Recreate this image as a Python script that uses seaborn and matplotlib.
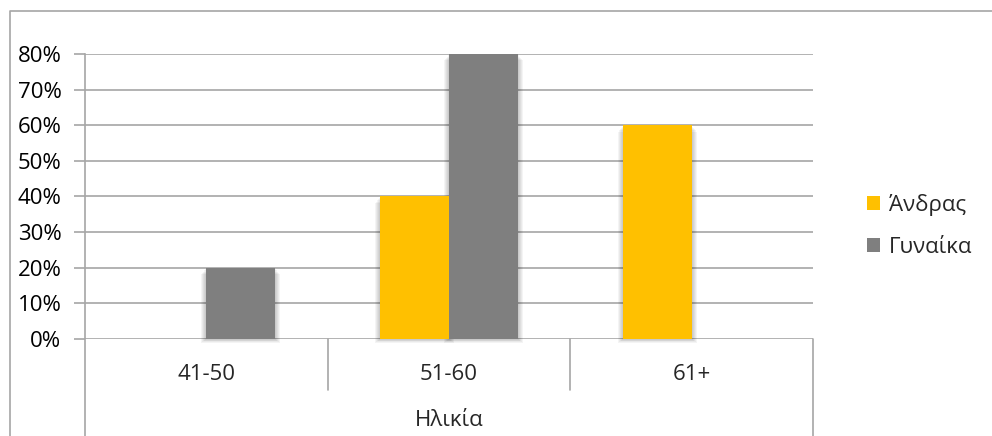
import matplotlib
matplotlib.use("Agg")
import matplotlib.pyplot as plt
from matplotlib.patches import Rectangle
from matplotlib.lines import Line2D
from matplotlib.ticker import PercentFormatter
import seaborn as sns
import pandas as pd

# Data
age_groups = ["41-50", "51-60", "61+"]
men = [0.0, 0.40, 0.60]
women = [0.20, 0.80, 0.0]
series_names = ["Άνδρας", "Γυναίκα"]
axis_title = "Ηλικία"
y_ticks = [0, 0.1, 0.2, 0.3, 0.4, 0.5, 0.6, 0.7, 0.8]

colors = ["#FFC000", "#7F7F7F"]
grid_color = "#A6A6A6"
FS = 16

sns.set_theme(style="white")
plt.rcParams["font.family"] = ["Open Sans", "DejaVu Sans"]

df = pd.DataFrame({
    "age": age_groups * 2,
    "sex": [series_names[0]] * 3 + [series_names[1]] * 3,
    "value": men + women,
})

W, H = 992, 436
fig = plt.figure(figsize=(W / 100, H / 100), dpi=100)
ax_left, ax_right, ax_top, ax_bottom = 85, 813, 54, 339
ax = fig.add_axes([ax_left / W, (H - ax_bottom) / H,
                   (ax_right - ax_left) / W, (ax_bottom - ax_top) / H])

sns.barplot(data=df, x="age", y="value", hue="sex", order=age_groups,
            hue_order=series_names, palette=colors, width=0.57,
            saturation=1, ax=ax, legend=False, zorder=3,
            linewidth=0, edgecolor="none")

ax.set_xlim(-0.5, 2.5)
ax.set_ylim(0, 0.8)
ax.set_yticks(y_ticks)
ax.yaxis.set_major_formatter(PercentFormatter(1.0, decimals=0))
ax.tick_params(axis="y", labelsize=FS, colors=grid_color, labelcolor="black",
               length=8, width=1.2, direction="out", left=True, pad=9)
ax.tick_params(axis="x", bottom=False, labelbottom=False)
ax.set_xlabel("")
ax.set_ylabel("")

# Horizontal gridlines, drawn behind the bars
for v in y_ticks:
    ax.axhline(v, color=grid_color, lw=1.2, zorder=1)

for side in ["top", "right", "bottom"]:
    ax.spines[side].set_visible(False)
ax.spines["left"].set_color(grid_color)
ax.spines["left"].set_linewidth(1.2)
ax.spines["left"].set_bounds(-(H - ax_bottom) / (ax_bottom - ax_top) * 0.8, 0.8)
ax.spines["left"].set_zorder(2)

# Soft shadow around each bar
px_x = 1.0 / (ax_right - ax_left) * 3.0
px_y = 0.8 / (ax_bottom - ax_top)
for p in list(ax.patches):
    h = p.get_height()
    if h <= 0:
        continue
    x0, w = p.get_x(), p.get_width()
    for k in range(1, 6):
        ax.add_patch(Rectangle((x0 - k * px_x, -k * px_y * 0.8),
                               w + 2 * k * px_x, h - k * px_y * 0.5,
                               facecolor="black", alpha=0.045, lw=0,
                               zorder=2, clip_on=False))

# Category axis with group boxes
trans = ax.get_xaxis_transform()
depth = (H - ax_bottom) / (ax_bottom - ax_top)
short = (390 - ax_bottom) / (ax_bottom - ax_top)
for xs in [0.5, 1.5]:
    ax.add_line(Line2D([xs, xs], [0, -short], transform=trans, color=grid_color,
                       lw=1.2, clip_on=False))
ax.add_line(Line2D([2.5, 2.5], [0, -depth], transform=trans, color=grid_color,
                   lw=1.2, clip_on=False))
for i, lab in enumerate(age_groups):
    ax.text(i, -(374 - ax_bottom) / (ax_bottom - ax_top), lab, transform=trans,
            ha="center", va="center", fontsize=FS)
ax.text(1.0, -(420 - ax_bottom) / (ax_bottom - ax_top), axis_title, transform=trans,
        ha="center", va="center", fontsize=FS)

# Legend
handles = [Rectangle((0, 0), 1, 1, facecolor=c, lw=0) for c in colors]
fig.legend(handles, series_names, loc="center left",
           bbox_to_anchor=(867 / W, (H - 226) / H), frameon=False,
           fontsize=FS, handlelength=0.6, handleheight=0.6,
           handletextpad=0.4, labelspacing=0.95, borderaxespad=0,
           borderpad=0)

# Chart area border
fig.add_artist(Line2D([10 / W, 10 / W, 1.0], [0, (H - 11) / H, (H - 11) / H],
                      transform=fig.transFigure, color=grid_color, lw=1.2))

fig.savefig("out.png", dpi=100)
